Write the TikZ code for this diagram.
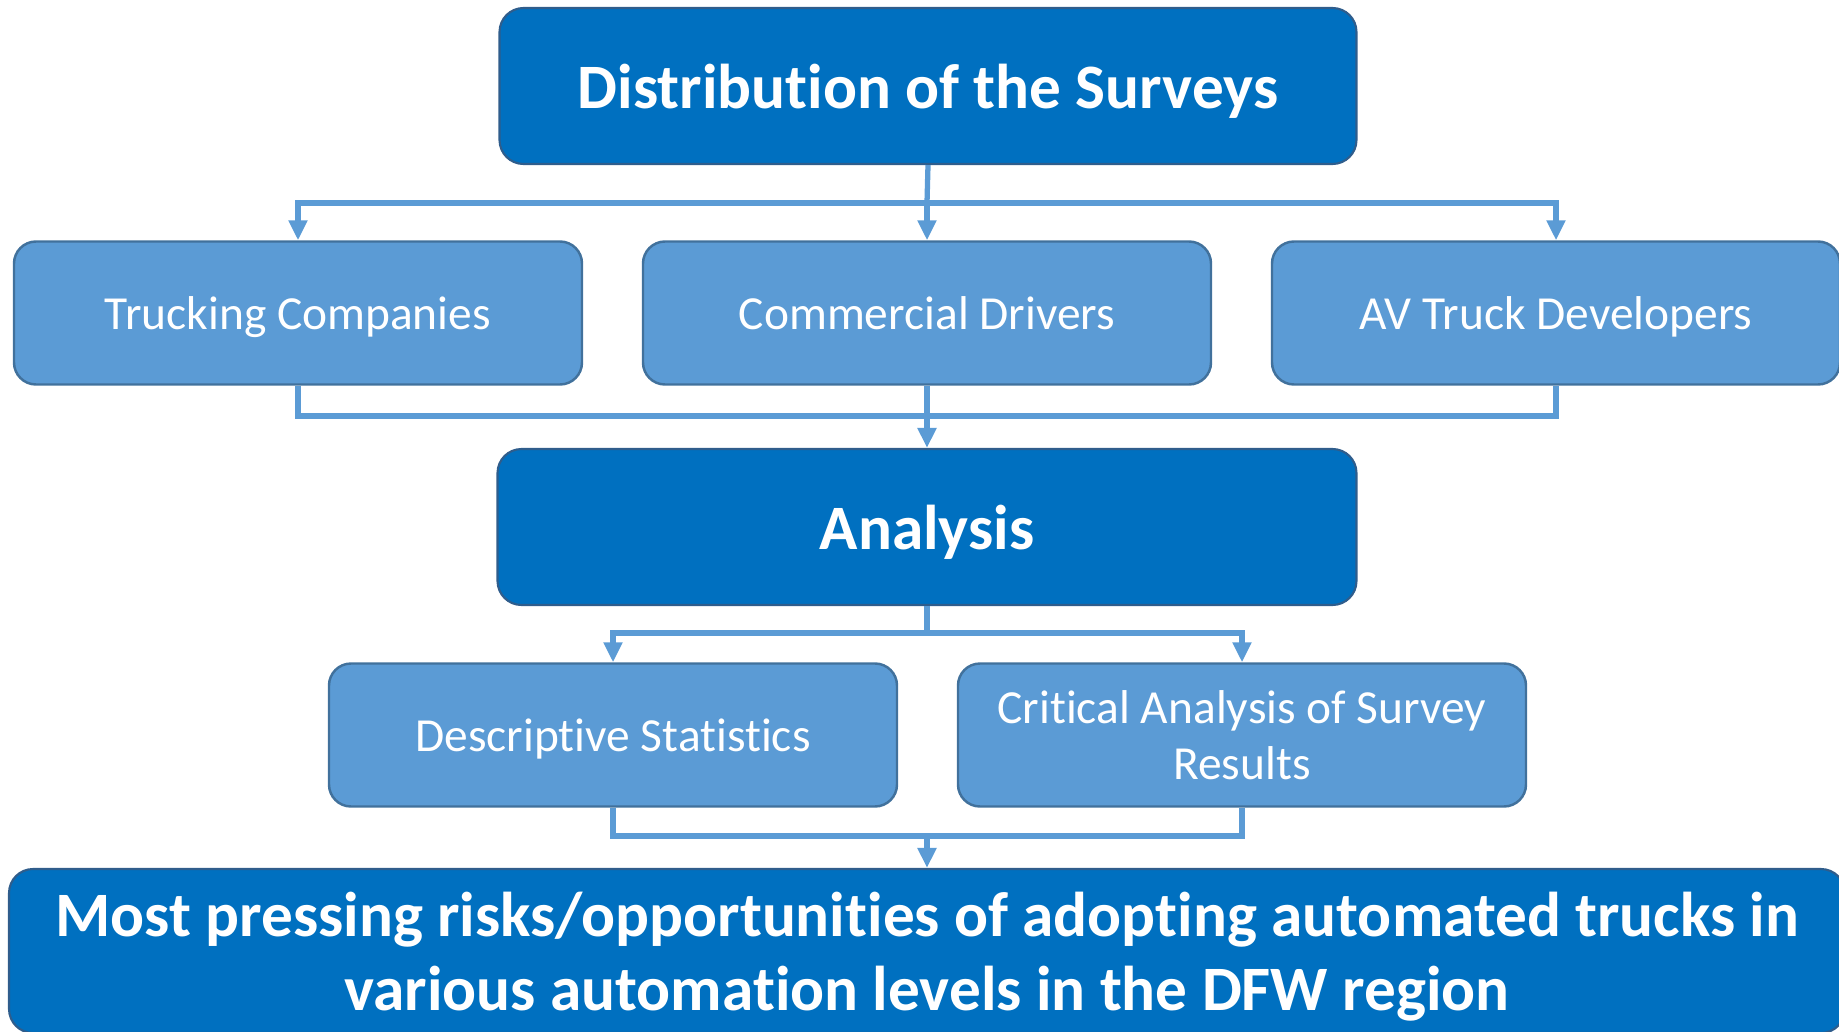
\documentclass[tikz,border=0pt]{standalone}
\usepackage{fontspec}
\setmainfont{Carlito}[Ligatures=NoCommon]
\usetikzlibrary{arrows.meta}
\definecolor{darkblue}{HTML}{0070C0}
\definecolor{darkedge}{HTML}{2F5D8C}
\definecolor{lightblue}{HTML}{5B9BD5}
\definecolor{lightedge}{HTML}{41719C}

\begin{document}
\begin{tikzpicture}[x=0.1mm,y=-0.1mm,
    mainbox/.style={draw=darkedge,line width=0.6pt,fill=darkblue,rounded corners=2.4mm,
        text=white,font=\fontsize{18}{21}\selectfont\bfseries,align=center,inner sep=0pt,
        text depth=0pt},
    subbox/.style={draw=lightedge,line width=0.7pt,fill=lightblue,rounded corners=2.2mm,
        text=white,font=\fontsize{13.5}{16}\selectfont,align=center,text depth=0pt,
        minimum width=56.8mm,minimum height=14.3mm,inner sep=0pt},
    link/.style={draw=lightblue,line width=1.5pt},
    tip/.style={-{Triangle[length=2mm,width=1.8mm]}}]
    \clip (0,0) rectangle (1839,1032);

    % boxes
    \node[mainbox,minimum width=85.7mm,minimum height=15.6mm] (dist) at (928,86) {Distribution of the Surveys};
    \node[subbox] (truck) at (298,313) {Trucking Companies};
    \node[subbox] (comm) at (927,313) {Commercial Drivers};
    \node[subbox] (av) at (1556,313) {AV Truck Developers};
    \node[mainbox,minimum width=85.9mm,minimum height=15.6mm] (ana) at (927,527) {Analysis};
    \node[subbox] (desc) at (613,735) {Descriptive Statistics};
    \node[subbox] (crit) at (1242,735) {Critical Analysis of Survey\\Results};
    \node[mainbox,minimum width=183.6mm,minimum height=16.4mm] (risk) at (927,951)
        {Most pressing risks/opportunities of adopting automated trucks in\\various automation levels in the DFW region};

    % connectors
    \coordinate (j1) at (927,203);
    \coordinate (j2) at (927,416);
    \coordinate (j3) at (927,633);
    \coordinate (j4) at (927,836);
    \draw[link] (dist.south) -- (j1);
    \draw[link,tip] (j1) -| (truck.north);
    \draw[link,tip] (j1) -| (av.north);
    \draw[link,tip] (j1) -- (comm.north);
    \draw[link] (truck.south) |- (j2) -| (av.south);
    \draw[link,tip] (comm.south) -- (ana.north);
    \draw[link] (ana.south) -- (j3);
    \draw[link,tip] (j3) -| (desc.north);
    \draw[link,tip] (j3) -| (crit.north);
    \draw[link] (desc.south) |- (j4) -| (crit.south);
    \draw[link,tip] (j4) -- (risk.north);
\end{tikzpicture}
\end{document}
